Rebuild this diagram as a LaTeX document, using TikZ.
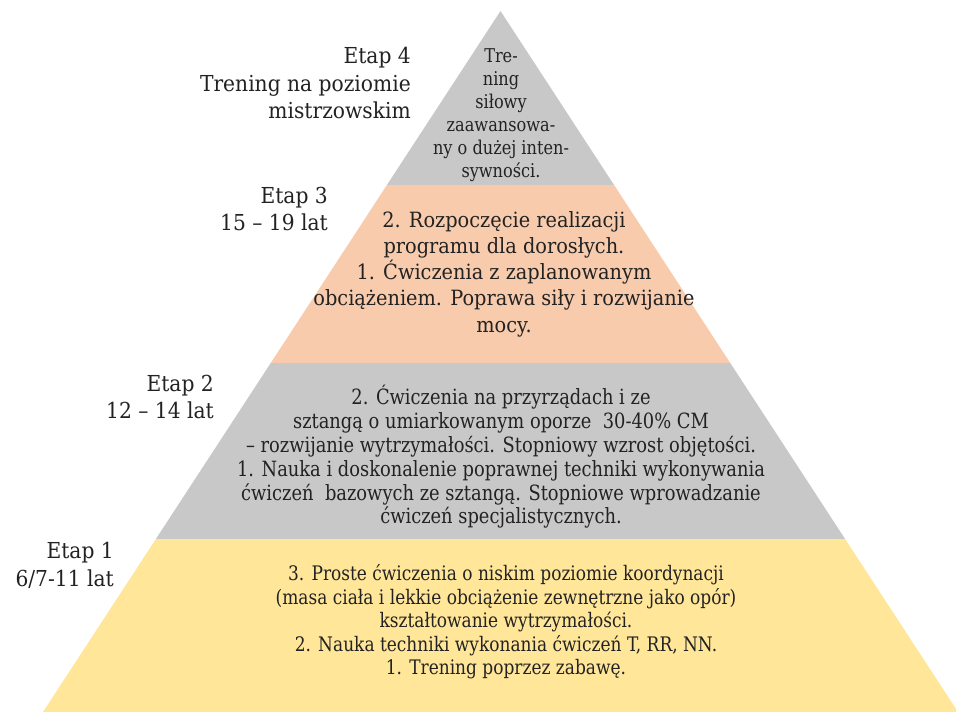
\documentclass[tikz,border=0pt]{standalone}
\usepackage{fontspec}
\setmainfont{DejaVu Serif}
\newfontfamily\labelfont{DejaVu Serif}[FakeStretch=0.92,Ligatures=TeX]
\newfontfamily\widefont{DejaVu Serif}[FakeStretch=0.92,Ligatures=TeX]
\newfontfamily\narrowfont{DejaVu Serif}[FakeStretch=0.85,Ligatures=TeX]
\definecolor{tiergray}{HTML}{C8C8C8}
\definecolor{tierpeach}{HTML}{F8CBAD}
\definecolor{tiergold}{HTML}{FFE699}
\definecolor{ink}{HTML}{222222}
\tikzset{
  stagelabel/.style={align=right, anchor=east, text=ink, font=\labelfont\fontsize{22}{27.8}\selectfont, inner sep=0pt},
  tiertext/.style={align=center, text=ink, inner sep=0pt},
}
\begin{document}
\begin{tikzpicture}[x=1pt,y=-1pt]
\useasboundingbox (0,0) rectangle (956,712);
% pyramid edges: apex (500.5,11), base (43,712)--(958,712)
\def\slope{0.6527}
% tiers
\fill[tiergray]  (500.5,11) -- ({500.5-\slope*174},185) -- ({500.5+\slope*174},185) -- cycle;
\fill[tierpeach] ({500.5-\slope*174},185) -- ({500.5-\slope*352},363) -- ({500.5+\slope*352},363) -- ({500.5+\slope*174},185) -- cycle;
\fill[tiergray]  ({500.5-\slope*352},363) -- ({500.5-\slope*528},539) -- ({500.5+\slope*528},539) -- ({500.5+\slope*352},363) -- cycle;
\fill[tiergold]  ({500.5-\slope*528},539) -- ({500.5-\slope*701},712) -- ({500.5+\slope*701},712) -- ({500.5+\slope*528},539) -- cycle;

% stage labels
\node[stagelabel] (etap4) at (411,83) {Etap 4\\Trening na poziomie\\mistrzowskim};
\node[stagelabel] (etap3) at (328,209) {Etap 3\\15 – 19 lat};
\node[stagelabel] (etap2) at (214,397) {Etap 2\\12 – 14 lat};
\node[stagelabel] (etap1) at (114,565) {Etap 1\\6/7-11 lat};

% tier contents
\node[tiertext, font=\narrowfont\fontsize{19}{23}\selectfont] (tier4) at (501,115)
  {Tre-\\ning\\siłowy\\zaawansowa-\\ny o dużej inten-\\sywności.};
\node[tiertext, font=\widefont\fontsize{21}{26.2}\selectfont] (tier3) at (504,274)
  {2. Rozpoczęcie realizacji\\programu dla dorosłych.\\1. Ćwiczenia z zaplanowanym\\obciążeniem. Poprawa siły i rozwijanie\\mocy.};
\node[tiertext, font=\narrowfont\fontsize{21}{23.8}\selectfont] (tier2) at (501,457)
  {2. Ćwiczenia na przyrządach i ze\\sztangą o umiarkowanym oporze\ \ 30-40\% CM\\– rozwijanie wytrzymałości. Stopniowy wzrost objętości.\\1. Nauka i doskonalenie poprawnej techniki wykonywania\\ćwiczeń\ \ bazowych ze sztangą. Stopniowe wprowadzanie\\ćwiczeń specjalistycznych.};
\node[tiertext, font=\narrowfont\fontsize{20}{23.5}\selectfont] (tier1) at (506,622)
  {3. Proste ćwiczenia o niskim poziomie koordynacji\\(masa ciała i lekkie obciążenie zewnętrzne jako opór)\\kształtowanie wytrzymałości.\\2. Nauka techniki wykonania ćwiczeń T, RR, NN.\\1. Trening poprzez zabawę.};
\end{tikzpicture}
\end{document}
